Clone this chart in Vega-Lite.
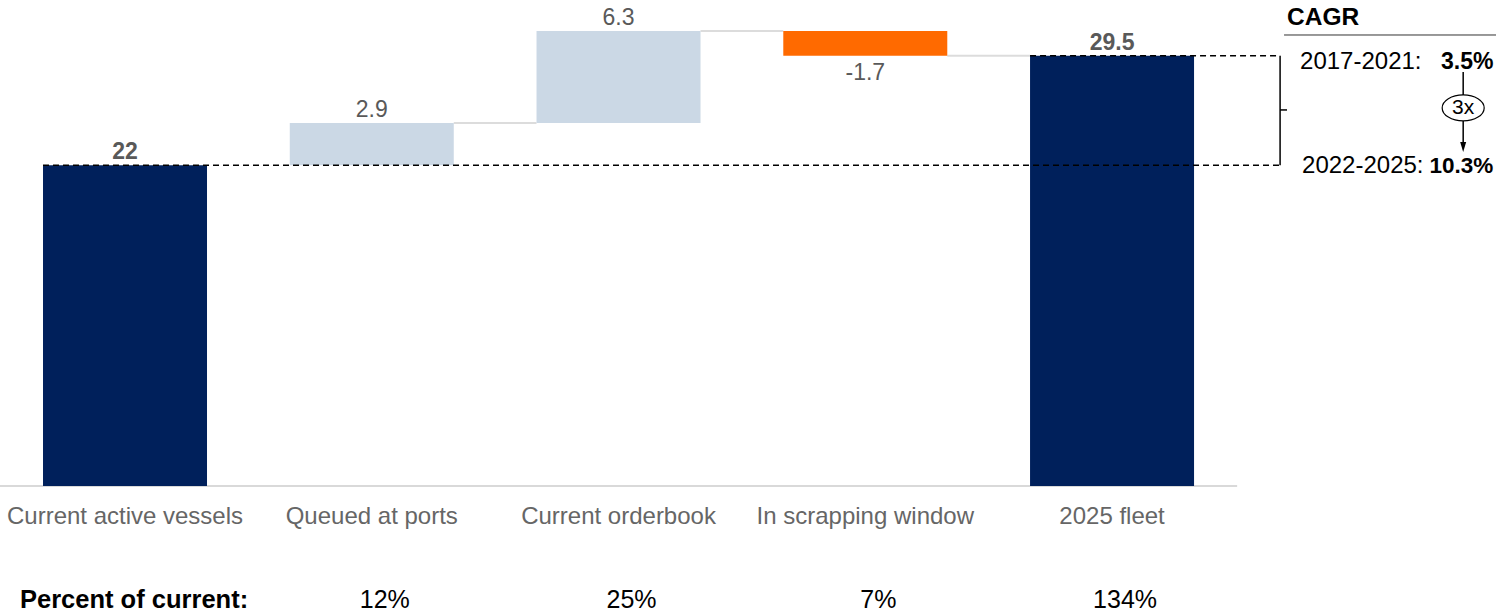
{
  "$schema": "https://vega.github.io/schema/vega-lite/v6.json",
  "autosize": {"type": "none"},
  "width": 1496,
  "height": 613,
  "padding": 0,
  "background": "white",
  "config": {"view": {"stroke": null}, "text": {"font": "Liberation Sans"}, "scale": {"continuousPadding": 0}},
  "datasets": {
    "steps": [
      {"step": "Current active vessels", "i": 0, "next": 1, "start": 0, "end": 22, "label": "22", "kind": "total", "pct": ""},
      {"step": "Queued at ports", "i": 1, "next": 2, "start": 22, "end": 24.9, "label": "2.9", "kind": "up", "pct": "12%"},
      {"step": "Current orderbook", "i": 2, "next": 3, "start": 24.9, "end": 31.2, "label": "6.3", "kind": "up", "pct": "25%"},
      {"step": "In scrapping window", "i": 3, "next": 4, "start": 31.2, "end": 29.5, "label": "-1.7", "kind": "down", "pct": "7%"},
      {"step": "2025 fleet", "i": 4, "next": 5, "start": 0, "end": 29.5, "label": "29.5", "kind": "total", "pct": "134%"}
    ],
    "one": [{}]
  },
  "layer": [
    {
      "data": {"name": "one"},
      "mark": {"type": "rule", "color": "#d9d9d9", "strokeWidth": 2},
      "encoding": {
        "x": {"datum": -0.5066, "scale": {"domain": [-0.5066, 5.556], "nice": false, "zero": false, "padding": 0}, "axis": null},
        "x2": {"datum": 4.507},
        "y": {"datum": 0, "scale": {"domain": [-8.71, 33.33], "nice": false, "zero": false, "padding": 0}, "axis": null}
      }
    },
    {
      "data": {"name": "steps"},
      "transform": [{"filter": "datum.i >= 1 && datum.i <= 3"}],
      "mark": {"type": "rule", "color": "#dcdcdc", "strokeWidth": 2, "xOffset": 82, "x2Offset": -82},
      "encoding": {
        "x": {"field": "i", "type": "quantitative", "scale": {"domain": [-0.5066, 5.556], "nice": false, "zero": false, "padding": 0}, "axis": null},
        "x2": {"field": "next"},
        "y": {"field": "end", "type": "quantitative", "scale": {"domain": [-8.71, 33.33], "nice": false, "zero": false, "padding": 0}, "axis": null}
      }
    },
    {
      "data": {"name": "steps"},
      "mark": {"type": "bar", "width": 164},
      "encoding": {
        "x": {"field": "i", "type": "quantitative", "scale": {"domain": [-0.5066, 5.556], "nice": false, "zero": false, "padding": 0}, "axis": null},
        "y": {"field": "start", "type": "quantitative", "scale": {"domain": [-8.71, 33.33], "nice": false, "zero": false, "padding": 0}, "axis": null},
        "y2": {"field": "end"},
        "color": {"field": "kind", "type": "nominal", "scale": {"domain": ["total", "up", "down"], "range": ["#00205B", "#CBD8E5", "#FF6A00"]}, "legend": null}
      }
    },
    {
      "data": {"name": "one"},
      "mark": {"type": "rule", "color": "black", "strokeWidth": 1.5, "strokeDash": [6, 4], "xOffset": -82},
      "encoding": {
        "x": {"datum": 0, "scale": {"domain": [-0.5066, 5.556], "nice": false, "zero": false, "padding": 0}, "axis": null},
        "x2": {"datum": 4.681},
        "y": {"datum": 22, "scale": {"domain": [-8.71, 33.33], "nice": false, "zero": false, "padding": 0}, "axis": null}
      }
    },
    {
      "data": {"name": "one"},
      "mark": {"type": "rule", "color": "black", "strokeWidth": 1.5, "strokeDash": [6, 4], "xOffset": -82},
      "encoding": {
        "x": {"datum": 4, "scale": {"domain": [-0.5066, 5.556], "nice": false, "zero": false, "padding": 0}, "axis": null},
        "x2": {"datum": 4.681},
        "y": {"datum": 29.5, "scale": {"domain": [-8.71, 33.33], "nice": false, "zero": false, "padding": 0}, "axis": null}
      }
    },
    {
      "data": {"name": "steps"},
      "transform": [{"filter": "datum.kind == 'total'"}],
      "mark": {"type": "text", "fontSize": 23, "fontWeight": "bold", "color": "#595959", "dy": -13, "baseline": "middle"},
      "encoding": {
        "x": {"field": "i", "type": "quantitative", "scale": {"domain": [-0.5066, 5.556], "nice": false, "zero": false, "padding": 0}, "axis": null},
        "y": {"field": "end", "type": "quantitative", "scale": {"domain": [-8.71, 33.33], "nice": false, "zero": false, "padding": 0}, "axis": null},
        "text": {"field": "label"}
      }
    },
    {
      "data": {"name": "steps"},
      "transform": [{"filter": "datum.kind == 'up'"}],
      "mark": {"type": "text", "fontSize": 23, "color": "#595959", "dy": -13, "baseline": "middle"},
      "encoding": {
        "x": {"field": "i", "type": "quantitative", "scale": {"domain": [-0.5066, 5.556], "nice": false, "zero": false, "padding": 0}, "axis": null},
        "y": {"field": "end", "type": "quantitative", "scale": {"domain": [-8.71, 33.33], "nice": false, "zero": false, "padding": 0}, "axis": null},
        "text": {"field": "label"}
      }
    },
    {
      "data": {"name": "steps"},
      "transform": [{"filter": "datum.kind == 'down'"}],
      "mark": {"type": "text", "fontSize": 23, "color": "#595959", "dy": 17, "baseline": "middle"},
      "encoding": {
        "x": {"field": "i", "type": "quantitative", "scale": {"domain": [-0.5066, 5.556], "nice": false, "zero": false, "padding": 0}, "axis": null},
        "y": {"field": "end", "type": "quantitative", "scale": {"domain": [-8.71, 33.33], "nice": false, "zero": false, "padding": 0}, "axis": null},
        "text": {"field": "label"}
      }
    },
    {
      "data": {"name": "steps"},
      "mark": {"type": "text", "fontSize": 24, "color": "#666666", "baseline": "middle"},
      "encoding": {
        "x": {"field": "i", "type": "quantitative", "scale": {"domain": [-0.5066, 5.556], "nice": false, "zero": false, "padding": 0}, "axis": null},
        "y": {"datum": -2.13, "scale": {"domain": [-8.71, 33.33], "nice": false, "zero": false, "padding": 0}, "axis": null},
        "text": {"field": "step"}
      }
    },
    {
      "data": {"name": "steps"},
      "transform": [{"filter": "datum.pct != ''"}],
      "mark": {"type": "text", "fontSize": 25, "color": "black", "baseline": "middle", "dx": 13},
      "encoding": {
        "x": {"field": "i", "type": "quantitative", "scale": {"domain": [-0.5066, 5.556], "nice": false, "zero": false, "padding": 0}, "axis": null},
        "y": {"datum": -7.82, "scale": {"domain": [-8.71, 33.33], "nice": false, "zero": false, "padding": 0}, "axis": null},
        "text": {"field": "pct"}
      }
    },
    {
      "data": {"name": "one"},
      "mark": {"type": "text", "fontSize": 25.5, "fontWeight": "bold", "color": "black", "baseline": "middle", "align": "left", "text": "Percent of current:"},
      "encoding": {
        "x": {"datum": -0.4256, "scale": {"domain": [-0.5066, 5.556], "nice": false, "zero": false, "padding": 0}, "axis": null},
        "y": {"datum": -7.82, "scale": {"domain": [-8.71, 33.33], "nice": false, "zero": false, "padding": 0}, "axis": null}
      }
    },
    {
      "data": {"name": "one"},
      "mark": {"type": "rule", "color": "black", "strokeWidth": 1.5},
      "encoding": {
        "x": {"datum": 4.681, "scale": {"domain": [-0.5066, 5.556], "nice": false, "zero": false, "padding": 0}, "axis": null},
        "y": {"datum": 22, "scale": {"domain": [-8.71, 33.33], "nice": false, "zero": false, "padding": 0}, "axis": null},
        "y2": {"datum": 29.5}
      }
    },
    {
      "data": {"name": "one"},
      "mark": {"type": "rule", "color": "black", "strokeWidth": 1.5},
      "encoding": {
        "x": {"datum": 4.681, "scale": {"domain": [-0.5066, 5.556], "nice": false, "zero": false, "padding": 0}, "axis": null},
        "x2": {"datum": 4.709},
        "y": {"datum": 25.79, "scale": {"domain": [-8.71, 33.33], "nice": false, "zero": false, "padding": 0}, "axis": null}
      }
    },
    {
      "data": {"name": "one"},
      "mark": {"type": "rule", "color": "#333333", "strokeWidth": 1},
      "encoding": {
        "x": {"datum": 4.697, "scale": {"domain": [-0.5066, 5.556], "nice": false, "zero": false, "padding": 0}, "axis": null},
        "x2": {"datum": 5.556},
        "y": {"datum": 30.93, "scale": {"domain": [-8.71, 33.33], "nice": false, "zero": false, "padding": 0}, "axis": null}
      }
    },
    {
      "data": {"name": "one"},
      "mark": {"type": "text", "fontSize": 24.5, "fontWeight": "bold", "color": "black", "baseline": "middle", "align": "left", "text": "CAGR"},
      "encoding": {
        "x": {"datum": 4.709, "scale": {"domain": [-0.5066, 5.556], "nice": false, "zero": false, "padding": 0}, "axis": null},
        "y": {"datum": 32.1, "scale": {"domain": [-8.71, 33.33], "nice": false, "zero": false, "padding": 0}, "axis": null}
      }
    },
    {
      "data": {"name": "one"},
      "mark": {"type": "text", "fontSize": 24, "color": "black", "baseline": "middle", "align": "left", "text": "2017-2021:"},
      "encoding": {
        "x": {"datum": 4.762, "scale": {"domain": [-0.5066, 5.556], "nice": false, "zero": false, "padding": 0}, "axis": null},
        "y": {"datum": 29.08, "scale": {"domain": [-8.71, 33.33], "nice": false, "zero": false, "padding": 0}, "axis": null}
      }
    },
    {
      "data": {"name": "one"},
      "mark": {"type": "text", "fontSize": 23, "fontWeight": "bold", "color": "black", "baseline": "middle", "align": "left", "text": "3.5%"},
      "encoding": {
        "x": {"datum": 5.333, "scale": {"domain": [-0.5066, 5.556], "nice": false, "zero": false, "padding": 0}, "axis": null},
        "y": {"datum": 29.08, "scale": {"domain": [-8.71, 33.33], "nice": false, "zero": false, "padding": 0}, "axis": null}
      }
    },
    {
      "data": {"name": "one"},
      "mark": {"type": "text", "fontSize": 24, "color": "black", "baseline": "middle", "align": "left", "text": "2022-2025:"},
      "encoding": {
        "x": {"datum": 4.77, "scale": {"domain": [-0.5066, 5.556], "nice": false, "zero": false, "padding": 0}, "axis": null},
        "y": {"datum": 21.95, "scale": {"domain": [-8.71, 33.33], "nice": false, "zero": false, "padding": 0}, "axis": null}
      }
    },
    {
      "data": {"name": "one"},
      "mark": {"type": "text", "fontSize": 22.5, "fontWeight": "bold", "color": "black", "baseline": "middle", "align": "left", "text": "10.3%"},
      "encoding": {
        "x": {"datum": 5.286, "scale": {"domain": [-0.5066, 5.556], "nice": false, "zero": false, "padding": 0}, "axis": null},
        "y": {"datum": 21.95, "scale": {"domain": [-8.71, 33.33], "nice": false, "zero": false, "padding": 0}, "axis": null}
      }
    },
    {
      "data": {"name": "one"},
      "mark": {"type": "rule", "color": "black", "strokeWidth": 1.5},
      "encoding": {
        "x": {"datum": 5.423, "scale": {"domain": [-0.5066, 5.556], "nice": false, "zero": false, "padding": 0}, "axis": null},
        "y": {"datum": 28.4, "scale": {"domain": [-8.71, 33.33], "nice": false, "zero": false, "padding": 0}, "axis": null},
        "y2": {"datum": 26.82}
      }
    },
    {
      "data": {"name": "one"},
      "mark": {"type": "rule", "color": "black", "strokeWidth": 1.5},
      "encoding": {
        "x": {"datum": 5.423, "scale": {"domain": [-0.5066, 5.556], "nice": false, "zero": false, "padding": 0}, "axis": null},
        "y": {"datum": 25.03, "scale": {"domain": [-8.71, 33.33], "nice": false, "zero": false, "padding": 0}, "axis": null},
        "y2": {"datum": 23.59}
      }
    },
    {
      "data": {"name": "one"},
      "mark": {"type": "point", "shape": "M-0.6,-1L0.6,-1L0,1Z", "size": 100, "filled": true, "color": "black", "opacity": 1},
      "encoding": {
        "x": {"datum": 5.423, "scale": {"domain": [-0.5066, 5.556], "nice": false, "zero": false, "padding": 0}, "axis": null},
        "y": {"datum": 23.25, "scale": {"domain": [-8.71, 33.33], "nice": false, "zero": false, "padding": 0}, "axis": null}
      }
    },
    {
      "data": {"name": "one"},
      "mark": {"type": "point", "shape": "M-1,0A1,0.62,0,1,0,1,0A1,0.62,0,1,0,-1,0Z", "size": 1764, "filled": true, "fill": "white", "stroke": "black", "strokeWidth": 1.2, "opacity": 1},
      "encoding": {
        "x": {"datum": 5.423, "scale": {"domain": [-0.5066, 5.556], "nice": false, "zero": false, "padding": 0}, "axis": null},
        "y": {"datum": 25.93, "scale": {"domain": [-8.71, 33.33], "nice": false, "zero": false, "padding": 0}, "axis": null}
      }
    },
    {
      "data": {"name": "one"},
      "mark": {"type": "text", "fontSize": 21, "color": "black", "baseline": "middle", "align": "center", "text": "3x"},
      "encoding": {
        "x": {"datum": 5.423, "scale": {"domain": [-0.5066, 5.556], "nice": false, "zero": false, "padding": 0}, "axis": null},
        "y": {"datum": 25.93, "scale": {"domain": [-8.71, 33.33], "nice": false, "zero": false, "padding": 0}, "axis": null}
      }
    }
  ]
}
